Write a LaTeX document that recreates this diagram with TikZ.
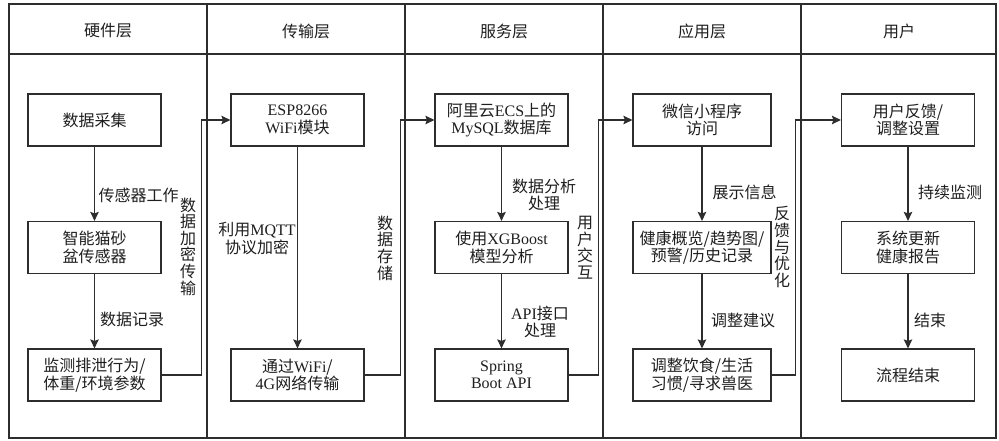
\documentclass[tikz,border=0pt]{standalone}
\usepackage{fontspec}
\setmainfont{Noto Sans CJK SC}
\newfontfamily\latfont{Liberation Serif}
\newcommand{\LT}[1]{{\latfont #1}}
\usetikzlibrary{arrows.meta}
\definecolor{ln}{RGB}{45,45,45}
\definecolor{tx}{RGB}{30,30,30}
\begin{document}
\begin{tikzpicture}[x=1pt,y=-1pt,
  every node/.style={text=tx,font=\fontsize{16}{17.5}\selectfont},
  box/.style={draw=ln,line width=1.2pt,minimum width=133pt,minimum height=52pt,inner sep=0pt,align=center},
  wbox/.style={box,minimum width=138pt},
  lab/.style={align=center,inner sep=0pt},
  vlab/.style={align=center,inner sep=0pt,font=\fontsize{16}{16.6}\selectfont},
  arr/.style={draw=ln,line width=1.2pt,-{Stealth[length=9pt,width=8.5pt,inset=1.5pt]}},
  frame/.style={draw=ln,line width=1.2pt}
]
\useasboundingbox (0,0) rectangle (999,441);
% frame
\draw[frame] (9,4) rectangle (996,438);
\draw[frame] (9,54) -- (996,54);
\foreach \x in {207,405,603,801} \draw[frame] (\x,4) -- (\x,438);
% headers
\node (h1) at (108,31) {硬件层};
\node (h2) at (306,31) {传输层};
\node (h3) at (504,31) {服务层};
\node (h4) at (702,31) {应用层};
\node (h5) at (899,31) {用户};
% column 1
\node[box] (a1) at (94.5,120) {数据采集};
\node[box] (a2) at (94.5,247.5) {智能猫砂\\盆传感器};
\node[box] (a3) at (94.5,375) {监测排泄行为/\\体重/环境参数};
% column 2
\node[box] (b1) at (297.5,120) {\LT{ESP8266}\\\LT{WiFi}模块};
\node[box] (b3) at (297.5,375) {通过\LT{WiFi}/\\\LT{4G}网络传输};
% column 3
\node[box] (c1) at (501.5,120) {阿里云\LT{ECS}上的\\\LT{MySQL}数据库};
\node[box] (c2) at (501.5,247.5) {使用\LT{XGBoost}\\模型分析};
\node[box] (c3) at (501.5,375) {\LT{Spring}\\\LT{Boot API}};
% column 4
\node[wbox] (d1) at (702,120) {微信小程序\\访问};
\node[wbox] (d2) at (702,247.5) {健康概览/趋势图/\\预警/历史记录};
\node[wbox] (d3) at (702,375) {调整饮食/生活\\习惯/寻求兽医};
% column 5
\node[box] (e1) at (908,120) {用户反馈/\\调整设置};
\node[box] (e2) at (908,247.5) {系统更新\\健康报告};
\node[box] (e3) at (908,375) {流程结束};
% vertical arrows
\draw[arr] (a1) -- (a2);
\draw[arr] (a2) -- (a3);
\draw[arr] (b1) -- (b3);
\draw[arr] (c1) -- (c2);
\draw[arr] (c2) -- (c3);
\draw[arr] (d1) -- (d2);
\draw[arr] (d2) -- (d3);
\draw[arr] (e1) -- (e2);
\draw[arr] (e2) -- (e3);
% cross-column connectors
\draw[arr] (a3.east) -- ++(40,0) |- (b1.west);
\draw[arr] (b3.east) -- ++(36,0) |- (c1.west);
\draw[arr] (c3.east) -- ++(30,0) |- (d1.west);
\draw[arr] (d3.east) -- ++(24,0) |- (e1.west);
% edge labels
\node[lab] (l1) at (138.5,195) {传感器工作};
\node[lab] (l2) at (132,319) {数据记录};
\node[lab] (l3) at (257,238.5) {利用\LT{MQTT}\\协议加密};
\node[lab] (l4) at (544,195) {数据分析\\处理};
\node[lab] (l5) at (540,322) {\LT{API}接口\\处理};
\node[lab] (l6) at (744.5,192) {展示信息};
\node[lab] (l7) at (743,320) {调整建议};
\node[lab] (l8) at (950,192) {持续监测};
\node[lab] (l9) at (930,320) {结束};
% vertical labels
\node[vlab] (v1) at (188,246.5) {数\\据\\加\\密\\传\\输};
\node[vlab] (v2) at (385,248) {数\\据\\存\\储};
\node[vlab] (v3) at (585,247.5) {用\\户\\交\\互};
\node[vlab] (v4) at (782,247) {反\\馈\\与\\优\\化};
\end{tikzpicture}
\end{document}
